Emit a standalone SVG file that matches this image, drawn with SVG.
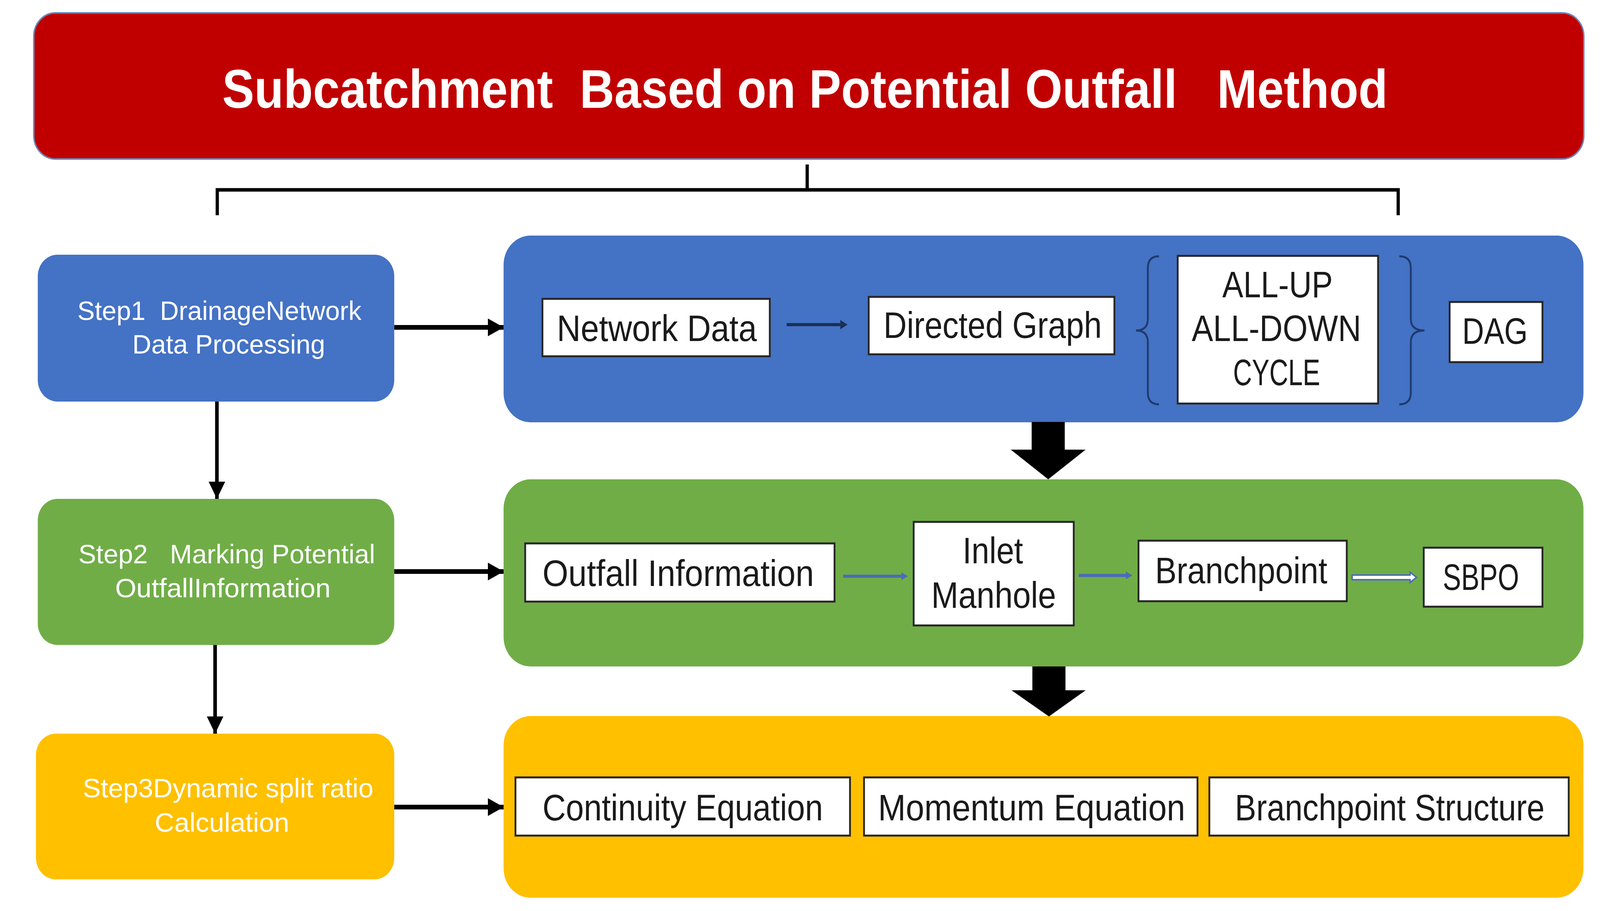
<svg xmlns="http://www.w3.org/2000/svg" width="4448" height="2332" viewBox="0 0 4448 2332" preserveAspectRatio="none">
<style>
svg{width:100vw;height:100vh}
.bg{fill:#ffffff}
.title{font-family:"Liberation Sans",Arial,sans-serif;font-weight:bold;font-size:140px;fill:#ffffff}
.step{font-family:"Liberation Sans",Arial,sans-serif;font-size:68px;fill:#ffffff}
.lbl{font-family:"Liberation Sans",Arial,sans-serif;font-size:94px;fill:#1a1a1a}
.wbox{fill:#ffffff;stroke:#262626;stroke-width:5}
.blk{stroke:#000000;fill:none}
.brace{stroke:#1f3a6e;stroke-width:5;fill:none}
.thin{fill:#4a6db5}
</style>
<defs>
<marker id="ah" markerUnits="userSpaceOnUse" markerWidth="46" markerHeight="46" refX="44" refY="23" orient="auto">
<path d="M0,0 L44,23 L0,46 Z" fill="#000000"/>
</marker>
</defs>
<rect class="bg" x="0" y="0" width="4448" height="2332"/>

<g id="title">
<rect x="94" y="33" width="4309" height="374" rx="60" ry="60" fill="#C00000" stroke="#6b86b8" stroke-width="4"/>
<text class="title" x="618" y="276" textLength="3240" lengthAdjust="spacingAndGlyphs" xml:space="preserve">Subcatchment  Based on Potential Outfall   Method</text>
</g>

<g id="bracket">
<path class="blk" stroke-width="9" d="M604,551 V486 H3887 V551 M2244,486 V421"/>
</g>

<g id="step1">
<rect x="105" y="652" width="991" height="376" rx="55" ry="55" fill="#4472C4"/>
<text class="step" x="215" y="819" textLength="790" lengthAdjust="spacingAndGlyphs" xml:space="preserve">Step1  DrainageNetwork</text>
<text class="step" x="368" y="905" textLength="536" lengthAdjust="spacingAndGlyphs">Data Processing</text>
</g>

<g id="step2">
<rect x="105" y="1277" width="991" height="374" rx="55" ry="55" fill="#70AD47"/>
<text class="step" x="218" y="1442" textLength="825" lengthAdjust="spacingAndGlyphs" xml:space="preserve">Step2   Marking Potential</text>
<text class="step" x="320" y="1529" textLength="599" lengthAdjust="spacingAndGlyphs">OutfallInformation</text>
</g>

<g id="step3">
<rect x="100" y="1878" width="996" height="373" rx="55" ry="55" fill="#FFC000"/>
<text class="step" x="230" y="2041" textLength="808" lengthAdjust="spacingAndGlyphs">Step3Dynamic split ratio</text>
<text class="step" x="430" y="2129" textLength="374" lengthAdjust="spacingAndGlyphs">Calculation</text>
</g>

<g id="panel1">
<rect x="1400" y="603" width="3002" height="478" rx="75" ry="75" fill="#4472C4"/>
</g>
<g id="panel2">
<rect x="1400" y="1227" width="3002" height="479" rx="75" ry="75" fill="#70AD47"/>
</g>
<g id="panel3">
<rect x="1400" y="1833" width="3002" height="465" rx="75" ry="75" fill="#FFC000"/>
</g>

<g id="network-data">
<rect class="wbox" x="1508" y="765" width="632" height="147"/>
<text class="lbl" x="1548" y="873" textLength="556" lengthAdjust="spacingAndGlyphs">Network Data</text>
</g>
<g id="directed-graph">
<rect class="wbox" x="2415" y="760" width="683" height="147"/>
<text class="lbl" x="2456" y="865" textLength="607" lengthAdjust="spacingAndGlyphs">Directed Graph</text>
</g>
<g id="braces">
<path class="brace" d="M3222,656 Q3191,656 3191,686 V816 Q3191,846 3158,846 Q3191,846 3191,876 V1005 Q3191,1035 3222,1035"/>
<path class="brace" d="M3890,656 Q3922,656 3922,686 V816 Q3922,846 3960,846 Q3922,846 3922,876 V1005 Q3922,1035 3890,1035"/>
</g>
<g id="cases">
<rect class="wbox" x="3274" y="655" width="557" height="378"/>
<text class="lbl" x="3398" y="761" textLength="307" lengthAdjust="spacingAndGlyphs">ALL-UP</text>
<text class="lbl" x="3313" y="873" textLength="471" lengthAdjust="spacingAndGlyphs">ALL-DOWN</text>
<text class="lbl" x="3428" y="986" textLength="242" lengthAdjust="spacingAndGlyphs">CYCLE</text>
</g>
<g id="dag">
<rect class="wbox" x="4030" y="773" width="258" height="154"/>
<text class="lbl" x="4065" y="880" textLength="182" lengthAdjust="spacingAndGlyphs">DAG</text>
</g>

<g id="outfall-information">
<rect class="wbox" x="1460" y="1391" width="860" height="149"/>
<text class="lbl" x="1508" y="1500" textLength="755" lengthAdjust="spacingAndGlyphs">Outfall Information</text>
</g>
<g id="inlet-manhole">
<rect class="wbox" x="2540" y="1336" width="445" height="265"/>
<text class="lbl" x="2676" y="1442" textLength="168" lengthAdjust="spacingAndGlyphs">Inlet</text>
<text class="lbl" x="2589" y="1556" textLength="347" lengthAdjust="spacingAndGlyphs">Manhole</text>
</g>
<g id="branchpoint">
<rect class="wbox" x="3165" y="1384" width="579" height="155"/>
<text class="lbl" x="3211" y="1493" textLength="479" lengthAdjust="spacingAndGlyphs">Branchpoint</text>
</g>
<g id="sbpo">
<rect class="wbox" x="3958" y="1402" width="330" height="151"/>
<text class="lbl" x="4011" y="1510" textLength="212" lengthAdjust="spacingAndGlyphs">SBPO</text>
</g>

<g id="continuity-equation">
<rect class="wbox" x="1433" y="1990" width="930" height="149"/>
<text class="lbl" x="1508" y="2100" textLength="780" lengthAdjust="spacingAndGlyphs">Continuity Equation</text>
</g>
<g id="momentum-equation">
<rect class="wbox" x="2402" y="1990" width="927" height="149"/>
<text class="lbl" x="2441" y="2100" textLength="854" lengthAdjust="spacingAndGlyphs">Momentum Equation</text>
</g>
<g id="branchpoint-structure">
<rect class="wbox" x="3362" y="1990" width="999" height="149"/>
<text class="lbl" x="3433" y="2100" textLength="861" lengthAdjust="spacingAndGlyphs">Branchpoint Structure</text>
</g>

<g id="connectors">
<line class="blk" stroke-width="12" x1="1096" y1="838" x2="1400" y2="838" marker-end="url(#ah)"/>
<line class="blk" stroke-width="12" x1="1096" y1="1463" x2="1400" y2="1463" marker-end="url(#ah)"/>
<line class="blk" stroke-width="12" x1="1096" y1="2066" x2="1400" y2="2066" marker-end="url(#ah)"/>
<line class="blk" stroke-width="10" x1="603" y1="1028" x2="603" y2="1277" marker-end="url(#ah)"/>
<line class="blk" stroke-width="10" x1="598" y1="1651" x2="598" y2="1878" marker-end="url(#ah)"/>
<path d="M2868,1080 H2960 V1151 H3018 L2914,1227 L2810,1151 H2868 Z" fill="#000000"/>
<path d="M2870,1706 H2962 V1767 H3018 L2916,1834 L2812,1767 H2870 Z" fill="#000000"/>
<path d="M2187,827 H2336 V819 L2356,831 L2336,843 V835 H2187 Z" fill="#1c2f55"/>
<path class="thin" d="M2344,1471 H2506 V1465 L2524,1475 L2506,1485 V1479 H2344 Z"/>
<path class="thin" d="M2999,1469 H3130 V1463 L3148,1473 L3130,1483 V1477 H2999 Z"/>
<path d="M3759,1472 H3920 V1465 L3938,1478 L3920,1491 V1484 H3759 Z" fill="#ffffff" stroke="#4a6db5" stroke-width="4"/>
</g>
</svg>
